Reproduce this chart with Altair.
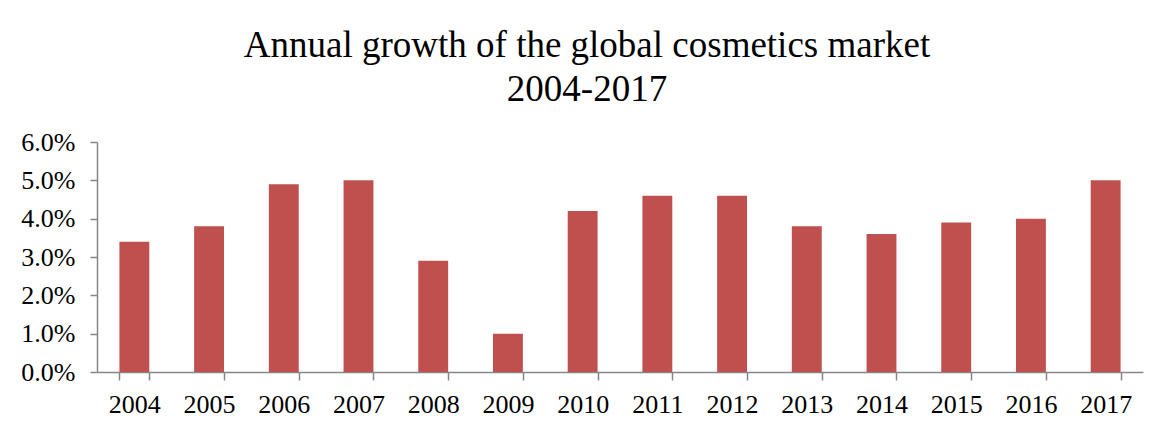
import altair as alt
import pandas as pd

years = ["2004", "2005", "2006", "2007", "2008", "2009", "2010",
         "2011", "2012", "2013", "2014", "2015", "2016", "2017"]
growth = [3.4, 3.8, 4.9, 5.0, 2.9, 1.0, 4.2, 4.6, 4.6, 3.8, 3.6, 3.9, 4.0, 5.0]
y_ticks = [0.0, 0.01, 0.02, 0.03, 0.04, 0.05, 0.06]
title_lines = ["Annual growth of the global cosmetics market", "2004-2017"]

df = pd.DataFrame({"year": years, "growth": [g / 100 for g in growth]})

FONT = "Liberation Serif"
AXIS_GRAY = "#868686"

chart = alt.Chart(df).mark_bar(color="#C0504D").encode(
    x=alt.X(
        "year:N",
        sort=years,
        scale=alt.Scale(paddingInner=0.6, paddingOuter=0.3),
        axis=alt.Axis(
            title=None,
            labelAngle=0,
            tickBand="extent",
            labelFont=FONT,
            labelFontSize=26,
            labelColor="black",
            labelBaseline="alphabetic",
            labelPadding=32,
            tickSize=8,
            tickColor=AXIS_GRAY,
            domainColor=AXIS_GRAY,
            tickWidth=1.5,
            domainWidth=1.5,
        ),
    ),
    y=alt.Y(
        "growth:Q",
        scale=alt.Scale(domain=[0, 0.06], nice=False),
        axis=alt.Axis(
            title=None,
            values=y_ticks,
            format=".1%",
            grid=False,
            labelFont=FONT,
            labelFontSize=26,
            labelColor="black",
            labelPadding=15,
            tickSize=7,
            tickColor=AXIS_GRAY,
            domainColor=AXIS_GRAY,
            tickWidth=1.5,
            domainWidth=1.5,
        ),
    ),
).properties(
    width=1046,
    height=230,
    title=alt.TitleParams(
        text=title_lines,
        font=FONT,
        fontSize=37,
        fontWeight="normal",
        color="black",
        lineHeight=44,
        anchor="middle",
        dx=-33,
        offset=20,
    ),
    autosize=alt.AutoSizeParams(type="none"),
    padding={"left": 89, "top": 134, "right": 16, "bottom": 50},
).configure(
    background="white"
).configure_view(
    stroke=None
)

chart.save("out.html", embed_options={"renderer": "svg", "actions": False})
